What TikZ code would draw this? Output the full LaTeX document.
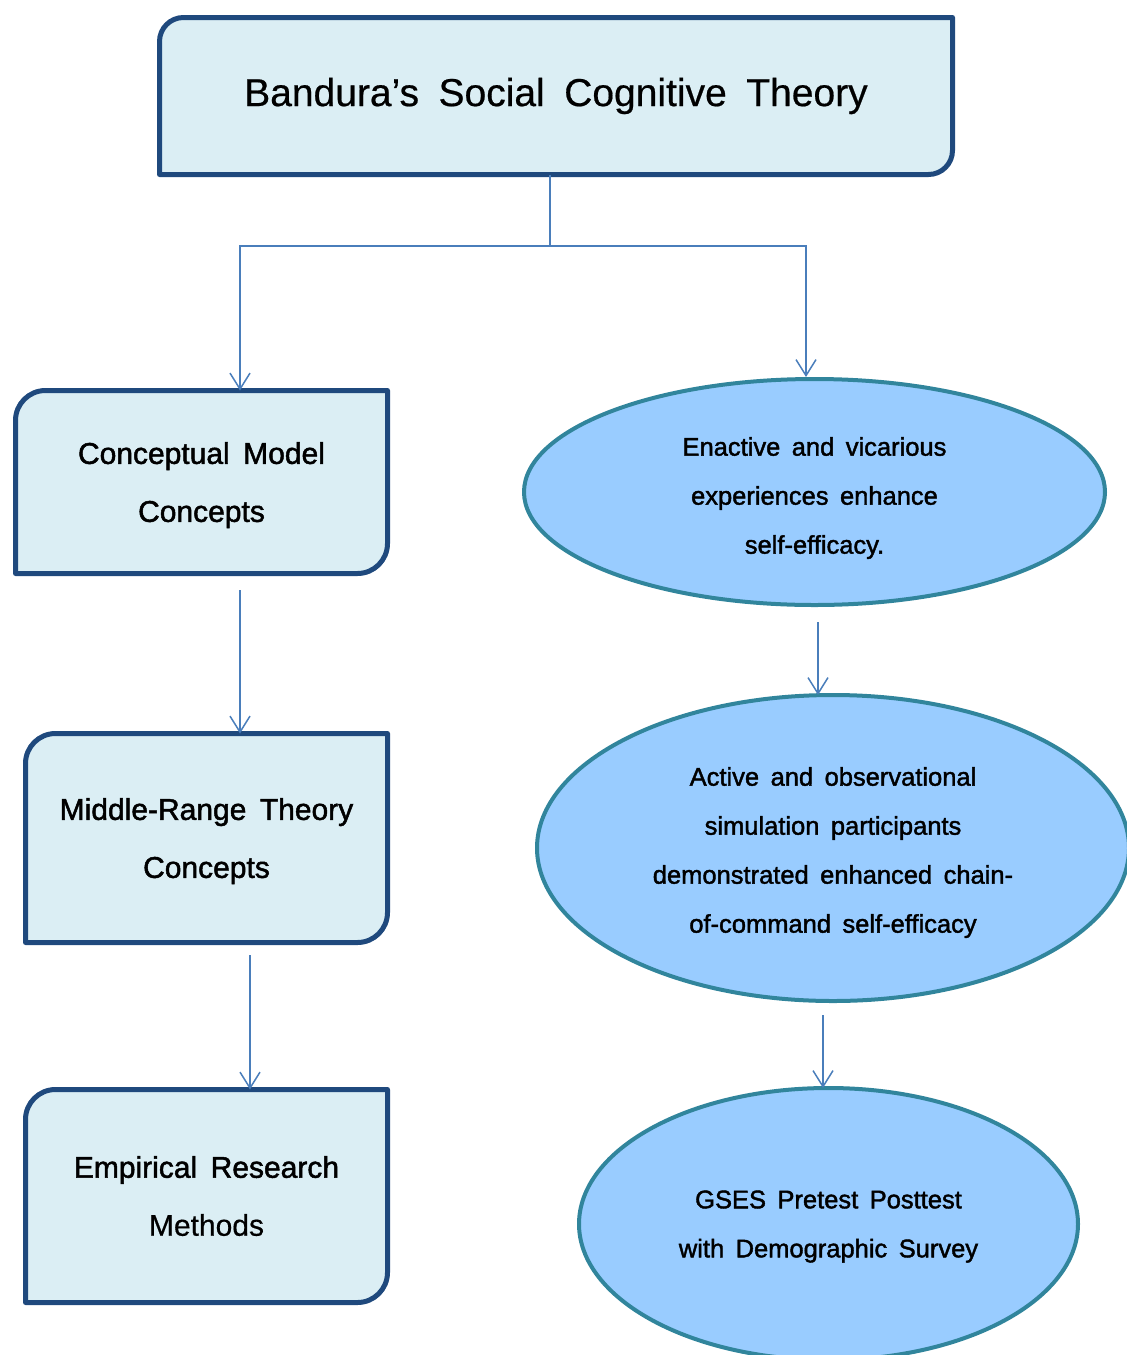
\documentclass[tikz,border=0pt]{standalone}
\usepackage{fontspec}
\setmainfont{Liberation Sans}
\newfontfamily\semibfont{Liberation Sans}[FakeBold=1.6]
\newfontfamily\lightbfont{Liberation Sans}[FakeBold=0.5]
\usetikzlibrary{arrows.meta,shapes.geometric,backgrounds,calc}
\definecolor{boxfill}{HTML}{DBEEF4}
\definecolor{boxedge}{HTML}{1F497D}
\definecolor{ellfill}{HTML}{99CCFF}
\definecolor{elledge}{HTML}{31859C}
\definecolor{connclr}{HTML}{4A7EBB}
\newcommand\widesp{\spaceskip=0.45em plus 0.1em\relax}
\newcommand\tstrut[1]{\rule{0pt}{#1}}
\newcommand\cornerbox[2]{%
  \filldraw[boxshape] (#1.south west) -- ([yshift=-#2]#1.north west)
    arc[start angle=180,end angle=90,radius=#2] -- (#1.north east)
    -- ([yshift=#2]#1.south east)
    arc[start angle=0,end angle=-90,radius=#2] -- cycle;}
\begin{document}
\begin{tikzpicture}[x=1pt,y=-1pt,
  boxshape/.style={fill=boxfill,draw=boxedge,line width=5pt,line join=round},
  boxnode/.style={rectangle,draw=none,inner sep=0pt,outer sep=0pt,align=center,
    font={\semibfont\fontsize{30}{58}\selectfont\widesp}},
  ellnode/.style={ellipse,draw=elledge,fill=ellfill,line width=4pt,inner sep=0pt,
    outer sep=0pt,align=center,font={\semibfont\fontsize{25.5}{49}\selectfont\widesp}},
  conn/.style={draw=connclr,line width=1.5pt},
  arr/.style={conn,-{Straight Barb[length=16pt,width=20pt]}}]
\useasboundingbox (0,0) rectangle (1127,1355);
% title
\node[boxnode,minimum width=793pt,minimum height=157pt,
  font={\lightbfont\fontsize{39}{46}\selectfont\spaceskip=0.5em plus 0.1em\relax}] (title) at (556,96)
  {Bandura’s Social Cognitive Theory};
% left boxes
\node[boxnode,minimum width=372pt,minimum height=183pt] (b1) at (201.5,482)
  {\tstrut{27.9pt}Conceptual Model\\Concepts};
\node[boxnode,minimum width=362pt,minimum height=209pt] (b2) at (206.5,838)
  {\tstrut{27.9pt}Middle-Range Theory\\Concepts};
\node[boxnode,minimum width=362pt,minimum height=213pt] (b3) at (206.5,1196)
  {Empirical Research\\{\lightbfont Methods}};
\begin{scope}[on background layer]
  \cornerbox{title}{24pt}
  \cornerbox{b1}{30pt}
  \cornerbox{b2}{30pt}
  \cornerbox{b3}{30pt}
\end{scope}
% ellipses
\begin{scope}
\clip (0,0) rectangle (1127,1355);
\node[ellnode,minimum width=581pt,minimum height=226pt] (e1) at (814.5,492)
  {\tstrut{30.6pt}Enactive and vicarious\\experiences enhance\\self-efficacy.};
\node[ellnode,minimum width=592pt,minimum height=306pt] (e2) at (833,848)
  {\tstrut{27.6pt}Active and observational\\simulation participants\\demonstrated enhanced chain-\\of-command self-efficacy};
\node[ellnode,minimum width=499pt,minimum height=272pt] (e3) at (828.5,1224)
  {\tstrut{22.9pt}GSES Pretest Posttest\\with Demographic Survey};
\end{scope}
% connectors
\coordinate (j) at (550,246);
\draw[conn] ([xshift=-6pt]title.south) -- (j);
\draw[arr] (j) -| ([xshift=38.5pt]b1.north);
\draw[arr] (j) -| ([xshift=-8.5pt,yshift=2pt]e1.north);
\draw[arr] ([xshift=38.5pt,yshift=-16.5pt]b1.south) -- ([xshift=33.5pt]b2.north);
\draw[arr] ([xshift=43.5pt,yshift=-12.5pt]b2.south) -- ([xshift=43.5pt]b3.north);
\draw[arr] ([xshift=3.5pt,yshift=-17pt]e1.south) -- ([xshift=-15pt]e2.north);
\draw[arr] ([xshift=-10pt,yshift=-14pt]e2.south) -- ([xshift=-5.5pt]e3.north);
\end{tikzpicture}
\end{document}
